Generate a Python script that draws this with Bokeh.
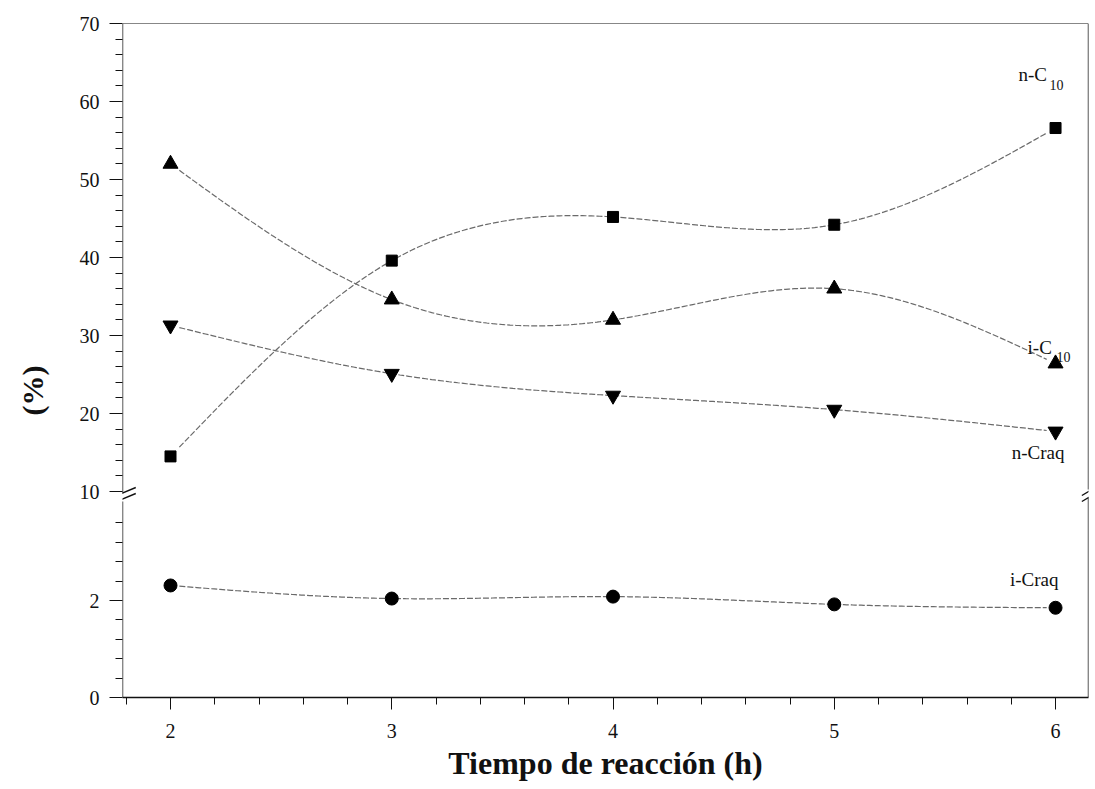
import numpy as np
from bokeh.plotting import figure
from bokeh.models import Range1d, FixedTicker, Arrow, Label
from bokeh.embed import file_html
from bokeh.resources import INLINE

# ---------------- data ----------------
hours = [2, 3, 4, 5, 6]
n_c10 = [14.5, 39.6, 45.2, 44.2, 56.6]
i_c10 = [52.0, 34.6, 32.0, 36.0, 26.4]
n_craq = [31.3, 25.1, 22.3, 20.5, 17.7]
i_craq = [2.31, 2.04, 2.08, 1.92, 1.85]

x_ticks = [2, 3, 4, 5, 6]
y_ticks_low = [0, 2]
y_ticks_high = [10, 20, 30, 40, 50, 60, 70]

# ---------------- broken y axis mapping ----------------
LOW_PX = 48.5      # display units per % in the lower panel (0-4)
HIGH_PX = 7.8      # display units per % in the upper panel (10-70)
HIGH_BASE = 206    # display position of 10 %


def ymap(v):
    v = np.asarray(v, dtype=float)
    return np.where(v <= 5, v * LOW_PX, HIGH_BASE + (v - 10) * HIGH_PX)


def spline(xs, ys, n=300):
    xs = np.asarray(xs, float)
    ys = np.asarray(ys, float)
    k = len(xs)
    h = np.diff(xs)
    A = np.zeros((k, k))
    b = np.zeros(k)
    A[0, 0] = A[-1, -1] = 1
    for i in range(1, k - 1):
        A[i, i - 1] = h[i - 1]
        A[i, i] = 2 * (h[i - 1] + h[i])
        A[i, i + 1] = h[i]
        b[i] = 6 * ((ys[i + 1] - ys[i]) / h[i] - (ys[i] - ys[i - 1]) / h[i - 1])
    M = np.linalg.solve(A, b)
    xx = np.linspace(xs[0] + 0.04, xs[-1] - 0.04, n)
    idx = np.clip(np.searchsorted(xs, xx) - 1, 0, k - 2)
    x0 = xs[idx]
    x1 = xs[idx + 1]
    hh = x1 - x0
    t0 = x1 - xx
    t1 = xx - x0
    yy = (M[idx] * t0 ** 3 / (6 * hh) + M[idx + 1] * t1 ** 3 / (6 * hh)
          + (ys[idx] / hh - M[idx] * hh / 6) * t0
          + (ys[idx + 1] / hh - M[idx + 1] * hh / 6) * t1)
    return xx, yy


X0, X1 = 1.783, 6.149
p = figure(width=1095, height=789, output_backend="svg", toolbar_location=None,
           x_range=Range1d(X0, X1), y_range=Range1d(0, 674),
           min_border_left=122, min_border_right=7, min_border_top=23,
           min_border_bottom=92)
p.background_fill_color = "white"
p.border_fill_color = "white"
p.outline_line_color = None
p.xgrid.visible = False
p.ygrid.visible = False

FONT = "Liberation Serif"
INK = "#111111"
LINE = "#6a6a6a"

# x axis
x_minor = [round(1.8 + 0.2 * i, 1) for i in range(23)
           if abs((1.8 + 0.2 * i) - round(1.8 + 0.2 * i)) > 1e-6]
p.xaxis.ticker = FixedTicker(ticks=x_ticks, minor_ticks=x_minor)
p.xaxis.major_label_text_font = FONT
p.xaxis.major_label_text_font_size = "20px"
p.xaxis.major_label_text_color = INK
p.xaxis.major_label_standoff = 14
p.xaxis.major_tick_out = 12
p.xaxis.major_tick_in = 0
p.xaxis.minor_tick_out = 7
p.xaxis.minor_tick_in = 0
p.xaxis.axis_line_color = INK
p.xaxis.major_tick_line_color = INK
p.xaxis.minor_tick_line_color = INK
p.xaxis.axis_line_width = 1.3
p.xaxis.axis_label = "Tiempo de reacción (h)"
p.xaxis.axis_label_text_font = FONT
p.xaxis.axis_label_text_font_size = "32px"
p.xaxis.axis_label_text_font_style = "bold"
p.xaxis.axis_label_text_color = INK
p.xaxis.axis_label_standoff = 4

# y axis (broken)
y_major_vals = y_ticks_low + y_ticks_high
y_major_pos = [float(ymap(v)) for v in y_major_vals]
y_minor_vals = [0.4, 0.8, 1.2, 1.6, 2.4, 2.8, 3.2, 3.6] + \
    [v for v in range(12, 70, 2) if v % 10 != 0]
y_minor_pos = [float(ymap(v)) for v in y_minor_vals]
p.yaxis.ticker = FixedTicker(ticks=y_major_pos, minor_ticks=y_minor_pos)
p.yaxis.major_label_overrides = {pos: str(v) for pos, v in zip(y_major_pos, y_major_vals)}
p.yaxis.major_label_text_font = FONT
p.yaxis.major_label_text_font_size = "20px"
p.yaxis.major_label_text_color = INK
p.yaxis.major_label_standoff = 10
p.yaxis.major_tick_out = 13
p.yaxis.major_tick_in = 0
p.yaxis.minor_tick_out = 7
p.yaxis.minor_tick_in = 0
p.yaxis.axis_line_color = None
p.yaxis.major_tick_line_color = INK
p.yaxis.minor_tick_line_color = INK
p.yaxis.axis_label = "(%)" + "\u00a0" * 8
p.yaxis.axis_label_text_font = FONT
p.yaxis.axis_label_text_font_size = "30px"
p.yaxis.axis_label_text_font_style = "bold"
p.yaxis.axis_label_text_color = INK
p.yaxis.axis_label_standoff = 28


# frame lines (axis line broken at the gap) and break marks
def seg(x0, y0, x1, y1, w=1.4):
    p.add_layout(Arrow(end=None, x_start=x0, y_start=y0, x_end=x1, y_end=y1,
                       line_color=INK, line_width=w))


gap_lo, gap_hi = float(ymap(4.0)) + 2, HIGH_BASE - 4
seg(X0, 0, X0, gap_lo)
seg(X0, gap_hi + 2, X0, 674)
seg(X1, 0, X1, gap_lo + 4)
seg(X1, gap_hi + 6, X1, 674)
seg(X0, 674, X1, 674, 1.2)
dx = 0.06
seg(X0 - dx, gap_lo - 3, X0 + dx, gap_lo + 8)
seg(X0 - dx, gap_hi - 3, X0 + dx, gap_hi + 8)
seg(X1 - 0.03, gap_lo, X1 + 0.03, gap_lo + 8)
seg(X1 - 0.03, gap_hi, X1 + 0.03, gap_hi + 8)

# curves
for series in (n_c10, i_c10, n_craq, i_craq):
    xx, yy = spline(hours, series)
    p.line(xx, ymap(yy), line_color=LINE, line_width=1.2, line_dash="6 2")

# markers
p.scatter(hours, ymap(n_c10), marker="square", size=11, color="black")
p.scatter(hours, ymap(i_c10), marker="triangle", size=15, color="black")
p.scatter(hours, ymap(n_craq), marker="inverted_triangle", size=15, color="black")
p.scatter(hours, ymap(i_craq), marker="circle", size=13, color="black")


def px_to_x(xref):
    return X0 + (xref - 122) / 221.25


def lab(text, xref, yref, size="19px", align="left"):
    p.add_layout(Label(x=px_to_x(xref), y=697 - yref, text=text,
                       text_font=FONT, text_font_size=size, text_color=INK,
                       text_align=align, text_baseline="middle"))


# series labels
lab("n-C", 1018, 74)
lab("10", 1049, 84, size="14px")
lab("i-C", 1027, 347)
lab("10", 1056, 356, size="14px")
lab("n-Craq", 1064, 452, align="right")
lab("i-Craq", 1058, 579, align="right")

open("out.html", "w").write(file_html(p, INLINE))
